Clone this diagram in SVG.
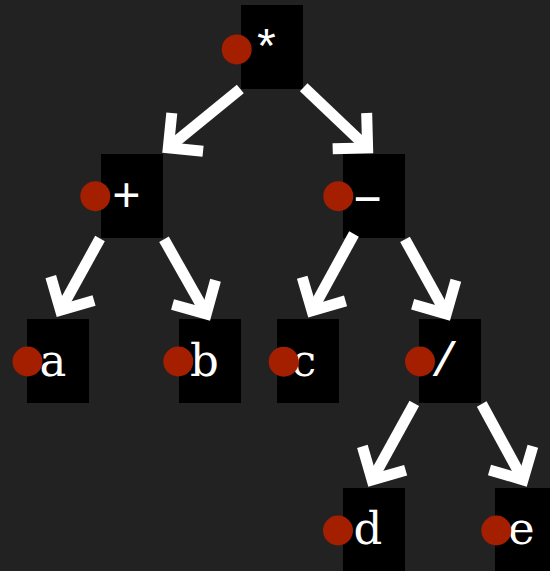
<svg xmlns="http://www.w3.org/2000/svg" width="550" height="571" viewBox="0 0 550 571">
  <style>
    .box { fill: #000000; }
    .dot { fill: #a31f00; }
    .lbl { fill: #ffffff; font-family: "DejaVu Serif", "Liberation Serif", serif; font-size: 45px; text-anchor: middle; }
    .op { font-family: "Liberation Mono", "DejaVu Sans Mono", monospace; font-size: 48px; }
    .edge { stroke: #ffffff; stroke-width: 11; fill: none; marker-end: url(#chevron); }
  </style>
  <defs>
    <marker id="chevron" markerUnits="userSpaceOnUse" orient="auto" refX="0" refY="0" markerWidth="80" markerHeight="80" overflow="visible">
      <path d="M -24.7,-24.7 L 0,0 L -24.7,24.7" fill="none" stroke="#ffffff" stroke-width="11" stroke-linejoin="miter" stroke-miterlimit="4"/>
    </marker>
  </defs>

  <rect width="550" height="571" fill="#222222"/>

  <!-- expression tree nodes -->
  <g id="node-mul">
    <rect class="box" x="241" y="5" width="62" height="84"/>
    <text class="lbl op" x="266.5" y="64">*</text>
    <circle class="dot" cx="236.7" cy="49.4" r="15"/>
  </g>
  <g id="node-add">
    <rect class="box" x="101" y="154" width="62" height="84"/>
    <text class="lbl op" x="126.3" y="211">+</text>
    <circle class="dot" cx="95.3" cy="196.2" r="15"/>
  </g>
  <g id="node-sub">
    <rect class="box" x="343" y="154" width="62" height="84"/>
    <!-- hyphen widened to a long dash -->
    <text class="lbl op" transform="translate(367.7,0) scale(1.8,1)" x="0" y="212">-</text>
    <circle class="dot" cx="338.3" cy="196.2" r="15"/>
  </g>
  <g id="node-a">
    <rect class="box" x="27" y="319" width="62" height="84"/>
    <text class="lbl" x="53" y="376">a</text>
    <circle class="dot" cx="27.5" cy="361.5" r="15"/>
  </g>
  <g id="node-b">
    <rect class="box" x="179" y="319" width="62" height="84"/>
    <text class="lbl" x="204.5" y="376">b</text>
    <circle class="dot" cx="178.3" cy="361.5" r="15"/>
  </g>
  <g id="node-c">
    <rect class="box" x="277" y="319" width="62" height="84"/>
    <text class="lbl" x="303.5" y="376">c</text>
    <circle class="dot" cx="283.7" cy="361.7" r="15"/>
  </g>
  <g id="node-div">
    <rect class="box" x="419" y="319" width="62" height="84"/>
    <text class="lbl op" x="444.5" y="376">/</text>
    <circle class="dot" cx="420" cy="361.5" r="15"/>
  </g>
  <g id="node-d">
    <rect class="box" x="343" y="488" width="62" height="84"/>
    <text class="lbl" x="368" y="544">d</text>
    <circle class="dot" cx="338" cy="530.5" r="15"/>
  </g>
  <g id="node-e">
    <rect class="box" x="495" y="488" width="62" height="84"/>
    <text class="lbl" x="521.3" y="544">e</text>
    <circle class="dot" cx="496.3" cy="530.5" r="15"/>
  </g>

  <!-- parent-to-child arrows -->
  <g id="connectors">
    <line class="edge" x1="240.3" y1="89" x2="168.3" y2="147.8"/>
    <line class="edge" x1="303.7" y1="87.3" x2="367.6" y2="147.9"/>
    <line class="edge" x1="100" y1="238.5" x2="60.5" y2="310.2"/>
    <line class="edge" x1="164" y1="239.3" x2="206.2" y2="313.9"/>
    <line class="edge" x1="354" y1="234" x2="312" y2="310.7"/>
    <line class="edge" x1="405" y1="239.3" x2="446.2" y2="313.9"/>
    <line class="edge" x1="414.3" y1="403.3" x2="372.1" y2="479.9"/>
    <line class="edge" x1="481.7" y1="404" x2="523" y2="479.8"/>
  </g>
</svg>
